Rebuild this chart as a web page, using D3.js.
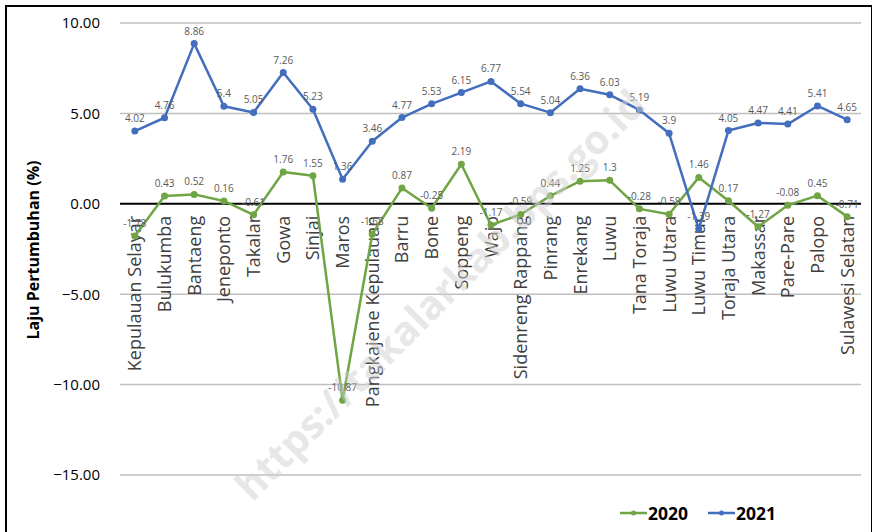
<!DOCTYPE html>
<html>
<head>
<meta charset="utf-8">
<script src="https://cdn.jsdelivr.net/npm/d3@7"></script>
<style>
	body { margin: 0; background: #fff; }
	svg { display: block; font-family: 'Open Sans', sans-serif; }
</style>
</head>
<body>
<div id="chart"></div>
<script>
const regencies = [
	'Kepulauan Selayar', 'Bulukumba', 'Bantaeng', 'Jeneponto', 'Takalar', 'Gowa',
	'Sinjai', 'Maros', 'Pangkajene Kepulauan', 'Barru', 'Bone', 'Soppeng', 'Wajo',
	'Sidenreng Rappang', 'Pinrang', 'Enrekang', 'Luwu', 'Tana Toraja', 'Luwu Utara',
	'Luwu Timur', 'Toraja Utara', 'Makassar', 'Pare-Pare', 'Palopo', 'Sulawesi Selatan'
];
const growth2020 = [
	-1.78, 0.43, 0.52, 0.16, -0.61, 1.76, 1.55, -10.87, -1.68, 0.87, -0.25, 2.19, -1.17,
	-0.59, 0.44, 1.25, 1.3, -0.28, -0.58, 1.46, 0.17, -1.27, -0.08, 0.45, -0.71
];
const growth2021 = [
	4.02, 4.76, 8.86, 5.4, 5.05, 7.26, 5.23, 1.36, 3.46, 4.77, 5.53, 6.15, 6.77,
	5.54, 5.04, 6.36, 6.03, 5.19, 3.9, -1.39, 4.05, 4.47, 4.41, 5.41, 4.65
];
const yTicks = [10, 5, 0, -5, -10, -15];
const seriesList = [
	{name: '2020', values: growth2020, color: '#6FA544'},
	{name: '2021', values: growth2021, color: '#436EBD'}
];

const width = 872, height = 532;
const svg = d3.select('#chart').append('svg')
	.attr('width', width)
	.attr('height', height);

// outer frame
svg.append('rect')
	.attr('x', 6).attr('y', 6)
	.attr('width', 866).attr('height', 540)
	.attr('fill', 'none')
	.attr('stroke', '#000')
	.attr('stroke-width', 2);

const x = d3.scaleBand().domain(regencies).range([120, 862]);
const y = d3.scaleLinear().domain([-15, 10]).range([475, 23]);
const cx = d => x(d) + x.bandwidth() / 2;

// gridlines
svg.append('g')
	.selectAll('line')
	.data(yTicks.filter(t => t !== 0))
	.join('line')
	.attr('x1', 120).attr('x2', 861)
	.attr('y1', d => y(d)).attr('y2', d => y(d))
	.attr('stroke', '#bfbfbf')
	.attr('stroke-width', 1.5);

// y axis labels
const yAxis = svg.append('g')
	.attr('transform', 'translate(100,0)')
	.call(d3.axisLeft(y).tickValues(yTicks).tickSize(0).tickPadding(0).tickFormat(d3.format('.2f')));
yAxis.select('.domain').remove();
yAxis.selectAll('text')
	.attr('font-family', "'Open Sans', sans-serif")
	.attr('font-size', 15)
	.attr('fill', '#000');

svg.append('text')
	.attr('transform', 'translate(39,250) rotate(-90)')
	.attr('text-anchor', 'middle')
	.attr('font-size', 16)
	.attr('font-weight', 'bold')
	.text('Laju Pertumbuhan (%)');

// category labels
svg.append('g')
	.selectAll('text')
	.data(regencies)
	.join('text')
	.attr('transform', d => `translate(${cx(d) + 6.5},${y(0) + 12}) rotate(-90)`)
	.attr('text-anchor', 'end')
	.attr('font-size', 18)
	.attr('fill', '#404040')
	.text(d => d);

// zero line
svg.append('line')
	.attr('x1', 120).attr('x2', 861)
	.attr('y1', y(0)).attr('y2', y(0))
	.attr('stroke', '#000')
	.attr('stroke-width', 2);

const line = d3.line()
	.x((d, i) => cx(regencies[i]))
	.y(d => y(d));

seriesList.forEach(s => {
	const g = svg.append('g');
	g.append('path')
		.attr('d', line(s.values))
		.attr('fill', 'none')
		.attr('stroke', s.color)
		.attr('stroke-width', 2.5)
		.attr('stroke-linejoin', 'round');
	g.selectAll('circle')
		.data(s.values)
		.join('circle')
		.attr('cx', (d, i) => cx(regencies[i]))
		.attr('cy', d => y(d))
		.attr('r', 3.5)
		.attr('fill', s.color);
	g.selectAll('text')
		.data(s.values)
		.join('text')
		.attr('x', (d, i) => cx(regencies[i]))
		.attr('y', d => y(d) - 9)
		.attr('text-anchor', 'middle')
		.attr('font-size', 10)
		.attr('fill', '#595959')
		.text(d => String(d));
});

// legend
const legend = svg.append('g').attr('transform', 'translate(620,513)');
seriesList.forEach((s, i) => {
	const lg = legend.append('g').attr('transform', `translate(${i * 88},0)`);
	lg.append('line')
		.attr('x1', 0).attr('x2', 27)
		.attr('stroke', s.color)
		.attr('stroke-width', 2.5);
	lg.append('circle').attr('cx', 13.5).attr('r', 2.5).attr('fill', s.color);
	lg.append('text')
		.attr('x', 28).attr('y', 6.5)
		.attr('font-size', 17.5)
		.attr('font-weight', 'bold')
		.attr('fill', '#000')
		.text(s.name);
});

// watermark
svg.append('text')
	.attr('transform', 'translate(450,305) rotate(-45)')
	.attr('text-anchor', 'middle')
	.attr('font-size', 40)
	.attr('font-weight', 'bold')
	.attr('fill', '#d0d0d0')
	.attr('opacity', 0.5)
	.text('https://takalarkab.bps.go.id');
</script>
</body>
</html>
